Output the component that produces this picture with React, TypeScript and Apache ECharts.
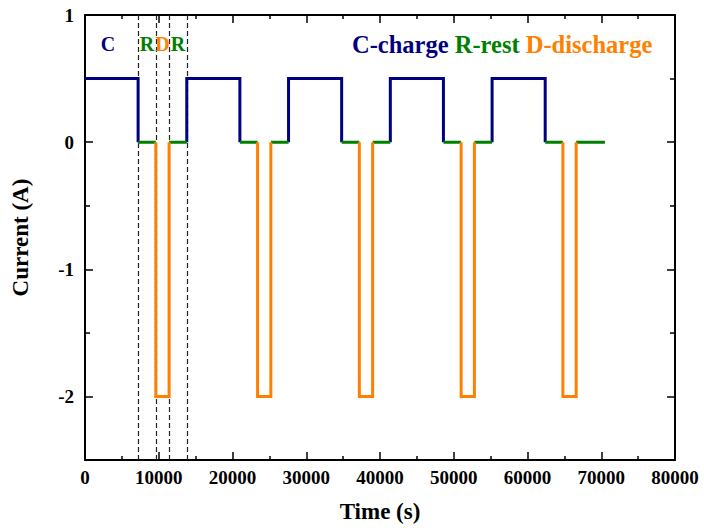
import React, { useEffect, useRef } from 'react';
import * as echarts from 'echarts';

// Time segments (s)
const chargeSegments: [number, number][] = [
  [0, 7200], [13800, 21000], [27600, 34800], [41400, 48600], [55200, 62400],
];
const restSegments: [number, number][] = [
  [7200, 9600], [11400, 13800], [21000, 23400], [25200, 27600], [34800, 37200],
  [39000, 41400], [48600, 51000], [52800, 55200], [62400, 64800], [66600, 70500],
];
const dischargeSegments: [number, number][] = [
  [9600, 11400], [23400, 25200], [37200, 39000], [51000, 52800], [64800, 66600],
];
const chargeCurrent = 0.5;
const restCurrent = 0;
const dischargeCurrent = -2;

// dashed phase markers (s)
const phaseMarkers = [7200, 9600, 11400, 13800];

// axis ticks
const xMin = 0;
const xMax = 80000;
const xInterval = 10000;
const yMin = -2.5;
const yMax = 1;
const yMajorTicks = [-2, -1, 0, 1];
const yMinorTicks = [-1.5, -0.5, 0.5];

// phase letters above the first cycle
const annotationLetters = ['C', 'R', 'D', 'R'];
const annotationTimes = [3100, 8400, 10500, 12600];
const annotationCurrents = [0.77, 0.77, 0.77, 0.77];
const annotationPhases = ['charge', 'rest', 'discharge', 'rest'];

const NAVY = '#000080';
const GREEN = '#008000';
const ORANGE = '#ff8000';
const FONT = '"Liberation Serif", "Times New Roman", Times, serif';

const phaseColor: Record<string, string> = { charge: NAVY, rest: GREEN, discharge: ORANGE };

function buildCharge() {
  const out: any[] = [];
  chargeSegments.forEach(([s, e], i) => {
    if (i > 0) out.push([s, '-']);
    if (s > xMin) out.push([s, restCurrent]);
    out.push([s, chargeCurrent], [e, chargeCurrent], [e, restCurrent]);
  });
  return out;
}
function buildRest() {
  const out: any[] = [];
  restSegments.forEach(([s, e], i) => {
    if (i > 0) out.push([s, '-']);
    out.push([s, restCurrent], [e, restCurrent]);
  });
  return out;
}
function buildDischarge() {
  const out: any[] = [];
  dischargeSegments.forEach(([s, e], i) => {
    if (i > 0) out.push([s, '-']);
    out.push([s, restCurrent], [s, dischargeCurrent], [e, dischargeCurrent], [e, restCurrent]);
  });
  return out;
}

export default function App() {
  const ref = useRef<HTMLDivElement>(null);
  useEffect(() => {
    document.body.style.margin = '0';
    if (!ref.current) return;
    const chart = echarts.init(ref.current, undefined, { renderer: 'svg' });
    const axisLine = { show: true, onZero: false, lineStyle: { color: '#000', width: 2 } };
    const tickStyle = { color: '#000', width: 1.5 };
    const labelStyle = { color: '#000', fontFamily: FONT, fontWeight: 'bold' as const, fontSize: 19 };
    const lineBase = { join: 'miter', cap: 'butt', width: 3 };

    chart.setOption({
      animation: false,
      backgroundColor: '#fff',
      grid: { left: 85, right: 29, top: 15, bottom: 68, containLabel: false },
      xAxis: [
        {
          type: 'value', position: 'bottom', min: xMin, max: xMax, interval: xInterval,
          axisLine, splitLine: { show: false },
          axisTick: { inside: true, length: 8, lineStyle: tickStyle },
          minorTick: { show: true, splitNumber: 2, length: 4, lineStyle: tickStyle },
          minorSplitLine: { show: false },
          axisLabel: { ...labelStyle, margin: 8, formatter: (v: number) => String(v) },
          name: 'Time (s)', nameLocation: 'middle', nameGap: 40,
          nameTextStyle: { ...labelStyle, fontSize: 23 },
        },
        {
          type: 'value', position: 'top', min: xMin, max: xMax, interval: xInterval,
          axisLine, splitLine: { show: false },
          axisTick: { inside: true, length: 8, lineStyle: tickStyle },
          minorTick: { show: true, splitNumber: 2, length: 4, lineStyle: tickStyle },
          axisLabel: { show: false },
        },
      ],
      yAxis: [
        {
          type: 'value', position: 'left', min: yMin, max: yMax,
          axisLine, splitLine: { show: false },
          axisTick: { inside: true, length: 8, lineStyle: tickStyle, customValues: yMajorTicks },
          axisLabel: { ...labelStyle, margin: 11, customValues: yMajorTicks, formatter: (v: number) => String(v) },
          name: 'Current (A)', nameLocation: 'middle', nameGap: 53,
          nameTextStyle: { ...labelStyle, fontSize: 23 },
        },
        {
          type: 'value', position: 'left', min: yMin, max: yMax,
          axisLine: { show: false, onZero: false }, splitLine: { show: false },
          axisTick: { inside: true, length: 5, lineStyle: tickStyle, customValues: yMinorTicks },
          axisLabel: { show: false },
        },
        {
          type: 'value', position: 'right', min: yMin, max: yMax,
          axisLine, splitLine: { show: false },
          axisTick: { inside: true, length: 8, lineStyle: tickStyle, customValues: yMajorTicks },
          axisLabel: { show: false },
        },
        {
          type: 'value', position: 'right', min: yMin, max: yMax,
          axisLine: { show: false, onZero: false }, splitLine: { show: false },
          axisTick: { inside: true, length: 5, lineStyle: tickStyle, customValues: yMinorTicks },
          axisLabel: { show: false },
        },
      ],
      series: [
        {
          name: 'C-charge', type: 'line', data: buildCharge(), showSymbol: false, symbol: 'none',
          connectNulls: false, lineStyle: { ...lineBase, color: NAVY }, itemStyle: { color: NAVY },
          z: 3,
        },
        {
          name: 'R-rest', type: 'line', data: buildRest(), showSymbol: false, symbol: 'none',
          connectNulls: false, lineStyle: { ...lineBase, color: GREEN }, itemStyle: { color: GREEN },
          z: 4,
          markLine: {
            silent: true, symbol: ['none', 'none'], label: { show: false },
            lineStyle: { color: '#222', type: [5, 3], width: 1.2, opacity: 1 },
            emphasis: { disabled: true },
            data: phaseMarkers.map((t) => ({ xAxis: t })),
            z: 2,
          },
        },
        {
          name: 'D-discharge', type: 'line', data: buildDischarge(), showSymbol: false, symbol: 'none',
          connectNulls: false, lineStyle: { ...lineBase, color: ORANGE }, itemStyle: { color: ORANGE },
          z: 5,
        },
        {
          name: 'phase letters', type: 'scatter', symbolSize: 1,
          itemStyle: { color: 'transparent', opacity: 1 },
          z: 6,
          data: annotationLetters.map((l, i) => ({
            value: [annotationTimes[i], annotationCurrents[i]],
            label: {
              show: true, position: 'inside', formatter: l, opacity: 1,
              color: phaseColor[annotationPhases[i]], fontFamily: FONT, fontWeight: 'bold', fontSize: 20,
            },
          })),
        },
      ],
      graphic: [
        {
          type: 'text', left: 352, top: 32, z: 10,
          style: {
            text: '{c|C-charge} {r|R-rest} {d|D-discharge}',
            fontFamily: FONT, fontWeight: 'bold', fontSize: 24.5,
            rich: {
              c: { fill: NAVY, fontFamily: FONT, fontWeight: 'bold', fontSize: 24.5 },
              r: { fill: GREEN, fontFamily: FONT, fontWeight: 'bold', fontSize: 24.5 },
              d: { fill: ORANGE, fontFamily: FONT, fontWeight: 'bold', fontSize: 24.5 },
            },
          },
        },
      ],
    });
    return () => chart.dispose();
  }, []);
  return <div ref={ref} style={{ width: 704, height: 528 }} />;
}
